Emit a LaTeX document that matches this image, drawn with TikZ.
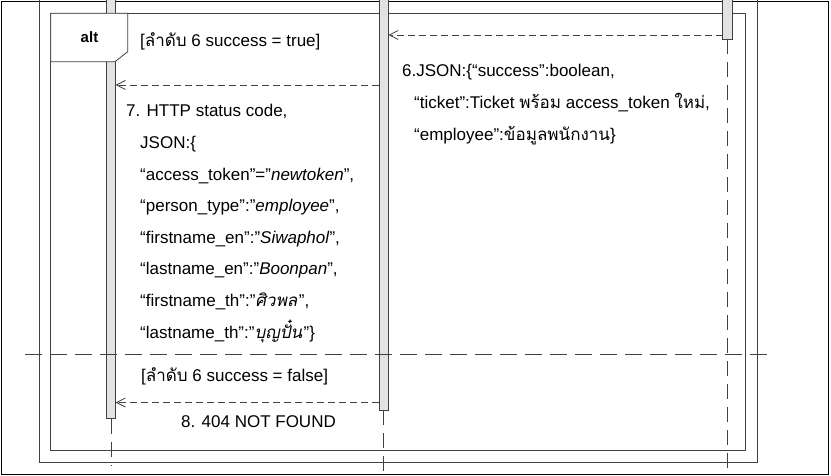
\documentclass[tikz,border=0pt]{standalone}
\usepackage{fontspec}
\setmainfont{Liberation Sans}
\newfontfamily\thai[Script=Thai]{Loma}
\newfontfamily\thaiit[Script=Thai,FakeSlant=0.2]{Loma}
\usetikzlibrary{arrows.meta,positioning}
\definecolor{framegray}{HTML}{404040}
\definecolor{barfill}{HTML}{E3E3E3}
\tikzset{
	txt/.style={anchor=base west, inner sep=0pt, text height=12pt, text depth=3pt, font=\fontsize{17}{20}\selectfont},
	msg/.style={draw=framegray, line width=0.8pt, dash pattern=on 7pt off 4pt, -{Straight Barb[length=9pt,width=9pt]}},
	lifeline/.style={draw=framegray, line width=0.8pt, dash pattern=on 15pt off 8pt},
	actbar/.style={draw=framegray, fill=barfill, line width=0.8pt},
	frameline/.style={draw=framegray, line width=0.8pt}
}
\begin{document}
\begin{tikzpicture}[x=1pt,y=-1pt]
				\useasboundingbox (0,0) rectangle (831,476);
				\clip (0,0) rectangle (831,476);
				\coordinate (A) at (111,418.5);
				\coordinate (A2) at (111,466);
				\coordinate (B) at (383.7,410.3);
				\coordinate (B2) at (383.7,476);
				\coordinate (C) at (727.7,39.3);
				\coordinate (C2) at (727.7,478);
				\coordinate (S1) at (722.7,35);
				\coordinate (S2) at (388.3,35);
				\coordinate (T1) at (379,85);
				\coordinate (T2) at (115.5,85);
				\coordinate (U1) at (379,402.5);
				\coordinate (U2) at (115.5,402.5);
				\coordinate (D1) at (25,354.3);
				\coordinate (D2) at (775,354.3);
				
				\draw[black, line width=1pt] (1.2,1.5) rectangle (828.8,474.2);
				\draw[frameline] (39,-5) -- (39,462) -- (757.7,462) -- (757.7,-5);
				\draw[frameline] (50.7,13.3) rectangle (745.7,450.7);
				
				\draw[lifeline] (A) -- (A2);
				\draw[lifeline] (B) -- (B2);
				\draw[lifeline] (C) -- (C2);
				\draw[actbar] (106.5,-5) rectangle (115.5,418.5);
				\draw[actbar] (379,-5) rectangle (388.3,410.3);
				\draw[actbar] (722.7,-5) rectangle (732.7,39.3);
				
				\draw[frameline, fill=white] (50.7,13.3) -- (127.7,13.3) -- (127.7,51.7) -- (115,61.7) -- (50.7,61.7) -- cycle;
				\node[font=\fontsize{15}{18}\selectfont\bfseries] (alt) at (89.5,37) {alt};
				
				\draw[msg] (S1) -- (S2);
				\draw[msg] (T1) -- (T2);
				\draw[msg] (U1) -- (U2);
				\draw[lifeline, dash pattern=on 17pt off 8pt] (D1) -- (D2);
				
				\node[txt] (g1) at (140,47) {[{\thai ลำดับ} 6 success = true]};
				\node[txt] (m6a) at (402,77) {6.JSON:\{“success”:boolean,};
				\node[txt] (m6b) at (414,108.6) {“ticket”:Ticket {\thai พร้อม} access\_token {\thai ใหม่},};
				\node[txt] (m6c) at (414,140.2) {“employee”:{\thai ข้อมูลพนักงาน}\}};
				\node[txt] (m7a) at (126,117) {7. HTTP status code,};
				\node[txt] (m7b) at (140,148.6) {JSON:\{};
				\node[txt] (m7c) at (140,180.2) {“access\_token”=”\textit{newtoken}”,};
				\node[txt] (m7d) at (140,211.8) {“person\_type”:”\textit{employee}”,};
				\node[txt] (m7e) at (140,243.4) {“firstname\_en”:”\textit{Siwaphol}”,};
				\node[txt] (m7f) at (140,275) {“lastname\_en”:”\textit{Boonpan}”,};
				\node[txt] (m7g) at (140,306.6) {“firstname\_th”:”{\thaiit ศิวพล}\kern1.5pt”,};
				\node[txt] (m7h) at (140,338.2) {“lastname\_th”:”{\thaiit บุญปั๋น}\kern1.5pt”\}};
				\node[txt] (g2) at (141,381) {[{\thai ลำดับ} 6 success = false]};
				\node[txt] (m8) at (181,427) {8. 404 NOT FOUND};
\end{tikzpicture}
\end{document}
